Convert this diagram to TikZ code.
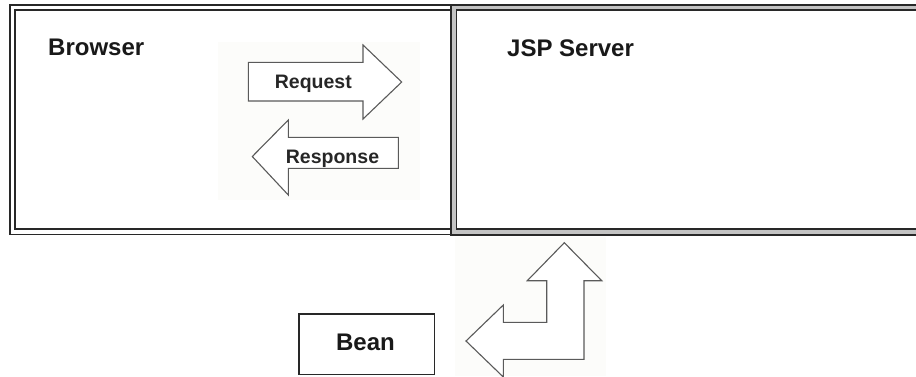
\documentclass[tikz,border=0pt]{standalone}
\usepackage{fontspec}
\setmainfont{Liberation Sans}
\definecolor{bgtex}{RGB}{252,252,250}
\definecolor{framegray}{RGB}{195,195,195}
\definecolor{linedark}{RGB}{40,40,40}
\definecolor{arrowline}{RGB}{90,90,90}
\begin{document}
\begin{tikzpicture}[x=1pt,y=-1pt,
  frameline/.style={draw=linedark,line width=1.4pt},
  bigarrow/.style={draw=arrowline,fill=white,line width=1.1pt,line join=miter},
  biglabel/.style={font=\fontsize{24}{28}\selectfont\bfseries,inner sep=0pt,text=black!90},
  arrowlabel/.style={font=\fontsize{19.5}{22}\selectfont\bfseries,inner sep=0pt,text=black!85},
  beanbox/.style={draw=linedark,line width=1.4pt,fill=white}]
\useasboundingbox (0,0) rectangle (916,376);
\clip (0,0) rectangle (916,376);
\fill[white] (0,0) rectangle (916,376);
% faint textured backgrounds
\fill[bgtex] (218,42) rectangle (420,200);
\fill[bgtex] (455,237) rectangle (606,376);
% left box (Browser) double border
\draw[frameline] (451,5) -- (10,5) -- (10,234.5) -- (451,234.5);
\draw[frameline] (451,10) -- (15,10) -- (15,229) -- (451,229);
% right box (JSP Server) double border with gray fill
\fill[framegray,even odd rule] (451,5) rectangle (930,235) (456.5,10) rectangle (930,229);
\draw[frameline] (930,5) -- (451,5) -- (451,235) -- (930,235);
\draw[frameline] (930,10) -- (456.5,10) -- (456.5,229) -- (930,229);
% request arrow
\draw[bigarrow] (248.3,62.3) -- (363,62.3) -- (363,45) -- (401.7,82) -- (363,119) -- (363,101) -- (248.3,101) -- cycle;
% response arrow
\draw[bigarrow] (398.3,137.3) -- (288.3,137.3) -- (288.3,120) -- (252.3,156.5) -- (288.3,195) -- (288.3,168.3) -- (398.3,168.3) -- cycle;
% L arrow between server and bean
\draw[bigarrow] (466,341) -- (503.3,305) -- (503.3,322.3) -- (546.7,322.3) -- (546.7,280.7) -- (527.3,280.7) -- (564.3,242.7) -- (601.7,280.7) -- (584,280.7) -- (584,359.3) -- (503.3,359.3) -- (503.3,377) -- cycle;
% bean box
\node[beanbox,minimum width=135.7pt,minimum height=60.7pt,anchor=north west] (beanbox) at (298.3,313.3) {};
% labels
\node[biglabel,anchor=base west] (browser) at (48,55) {Browser};
\node[biglabel,anchor=base west] (jsp) at (507,56.7) {JSP Server};
\node[biglabel,anchor=base] (bean) at (365.5,350) {Bean};
\node[arrowlabel,anchor=base] (request) at (313.3,88.3) {Request};
\node[arrowlabel,anchor=base] (response) at (332.5,163.3) {Response};
\end{tikzpicture}
\end{document}
